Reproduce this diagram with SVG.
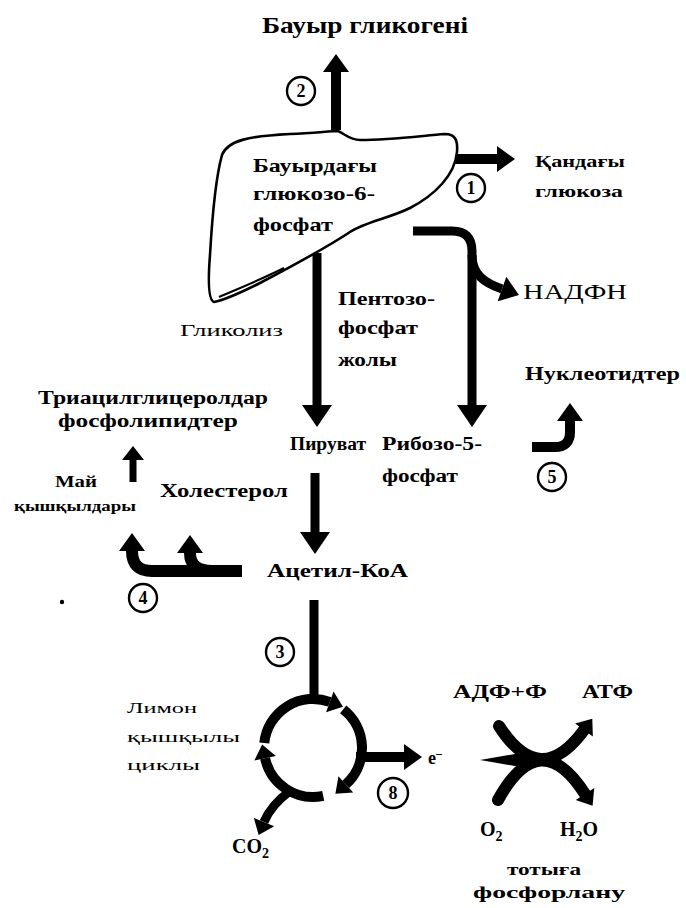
<svg xmlns="http://www.w3.org/2000/svg" width="686" height="908" viewBox="0 0 686 908">
  <style>
    text { font-family: "Liberation Serif", "DejaVu Serif", serif; fill: #000; }
    .b { font-weight: bold; }
    .num { font-weight: bold; font-size: 18px; text-anchor: middle; }
    .ring { fill: #fff; stroke: #000; stroke-width: 2.4; }
    .thick { fill: none; stroke: #000; stroke-width: 10; }
    .heavy { fill: none; stroke: #000; stroke-width: 12; }
    .mid { fill: none; stroke: #000; stroke-width: 9; }
    .thin { fill: none; stroke: #000; stroke-width: 7; }
    .outline { fill: #fff; stroke: #000; stroke-width: 2.6; stroke-linejoin: round; }
  </style>
  <defs>
    <marker id="hL" markerUnits="userSpaceOnUse" markerWidth="22" markerHeight="30" refX="0" refY="15" orient="auto" overflow="visible">
      <path d="M0,0 L22,15 L0,30 Z" fill="#000"/>
    </marker>
    <marker id="hM" markerUnits="userSpaceOnUse" markerWidth="18" markerHeight="26" refX="0" refY="13" orient="auto" overflow="visible">
      <path d="M0,0 L18,13 L0,26 Z" fill="#000"/>
    </marker>
    <marker id="hS" markerUnits="userSpaceOnUse" markerWidth="14" markerHeight="22" refX="0" refY="11" orient="auto" overflow="visible">
      <path d="M0,0 L14,11 L0,22 Z" fill="#000"/>
    </marker>
  </defs>
  <rect width="686" height="908" fill="#fff"/>

  <!-- connectors -->
  <g id="connectors">
    <!-- 2: to liver glycogen -->
    <path class="thick" d="M336,130 V72" marker-end="url(#hM)"/>
    <!-- 1: to blood glucose -->
    <path class="thick" d="M455,159 H497" marker-end="url(#hM)"/>
    <!-- pentose phosphate branch: to ribose-5-phosphate and NADPH -->
    <path class="mid" d="M413,231 H452 Q472,231 472,251 V405" marker-end="url(#hL)"/>
    <path class="mid" d="M472,255 C472,275 485,283 502,289" marker-end="url(#hM)"/>
    <!-- glycolysis -->
    <path class="mid" d="M317,253 V405" marker-end="url(#hL)"/>
    <!-- pyruvate to acetyl-CoA -->
    <path class="mid" d="M315,473 V532" marker-end="url(#hL)"/>
    <!-- fatty acids to triacylglycerols -->
    <path class="thin" d="M133,482 V460" marker-end="url(#hS)"/>
    <!-- 4: acetyl-CoA to fatty acids and cholesterol -->
    <path class="heavy" d="M242,571 H152 Q132,571 132,551" marker-end="url(#hM)"/>
    <path class="heavy" d="M212,571 Q190,571 190,553" marker-end="url(#hM)"/>
    <!-- 5: to nucleotides -->
    <path class="thick" d="M532,447 H555 Q570,447 570,432 V421" marker-end="url(#hM)"/>
    <!-- 3: into the citric acid cycle -->
    <path class="mid" d="M314,600 V700"/>
    <!-- citric acid cycle arcs -->
    <path class="thick" d="M264.3,742.9 A49,49 0 0 1 329.8,701.9" marker-end="url(#hS)"/>
    <path class="thick" d="M343.2,709.4 A49,49 0 0 1 345.8,784.4" marker-end="url(#hS)"/>
    <path class="thick" d="M323.2,795.9 A49,49 0 0 1 265.1,758.2" marker-end="url(#hS)"/>
    <!-- 8: electrons out -->
    <path class="thick" d="M356,757 H404" marker-end="url(#hM)"/>
    <!-- CO2 out -->
    <path class="mid" d="M290,791 Q271,805 264,822" marker-end="url(#hS)"/>
    <!-- oxidative phosphorylation cross -->
    <path d="M480,760 L515,754 L545,754 L545,766 L515,766 Z" fill="#000"/>
    <path class="heavy" stroke-linecap="round" d="M499,726 Q540,790 584,730" marker-end="url(#hS)"/>
    <path class="heavy" stroke-linecap="round" d="M498,800 Q540,724 585,794" marker-end="url(#hS)"/>
  </g>

  <!-- liver with glucose-6-phosphate -->
  <g id="liver">
    <path class="outline" d="M222,155 C228,140 250,136 290,134 C315,133 330,131 338,131 C345,134 350,140 360,140 C390,140 420,136 445,134 C455,134 458,140 457,152 C455,175 435,195 410,208 C390,218 365,222 350,232 C335,242 300,262 260,283 C240,293 225,300 214,302 C208,300 208,280 210,255 C212,220 215,180 222,155 Z"/>
    <path d="M219,297 C240,288 262,279 284,268" fill="none" stroke="#000" stroke-width="2"/>
    <text class="b" x="253" y="172" font-size="19" textLength="124" lengthAdjust="spacingAndGlyphs">Бауырдағы</text>
    <text class="b" x="253" y="200" font-size="19" textLength="122" lengthAdjust="spacingAndGlyphs">глюкозо-6-</text>
    <text class="b" x="253" y="231" font-size="19" textLength="80" lengthAdjust="spacingAndGlyphs">фосфат</text>
  </g>

  <g id="glycogen">
    <text class="b" x="262" y="33" font-size="23" textLength="206" lengthAdjust="spacingAndGlyphs">Бауыр гликогені</text>
  </g>
  <g id="blood-glucose">
    <text class="b" x="535" y="167" font-size="17" textLength="90" lengthAdjust="spacingAndGlyphs">Қандағы</text>
    <text class="b" x="535" y="197" font-size="17" textLength="88" lengthAdjust="spacingAndGlyphs">глюкоза</text>
  </g>
  <g id="nadph">
    <text x="523" y="299" font-size="21" textLength="104" lengthAdjust="spacingAndGlyphs">НАДФН</text>
  </g>
  <g id="glycolysis-label">
    <text x="180" y="336" font-size="17" textLength="103" lengthAdjust="spacingAndGlyphs">Гликолиз</text>
  </g>
  <g id="pentose-label">
    <text class="b" x="338" y="305" font-size="19" textLength="97" lengthAdjust="spacingAndGlyphs">Пентозо-</text>
    <text class="b" x="338" y="334" font-size="19" textLength="80" lengthAdjust="spacingAndGlyphs">фосфат</text>
    <text class="b" x="338" y="366" font-size="19" textLength="59" lengthAdjust="spacingAndGlyphs">жолы</text>
  </g>
  <g id="triacylglycerols">
    <text class="b" x="38" y="404" font-size="18" textLength="230" lengthAdjust="spacingAndGlyphs">Триацилглицеролдар</text>
    <text class="b" x="58" y="427" font-size="18" textLength="180" lengthAdjust="spacingAndGlyphs">фосфолипидтер</text>
  </g>
  <g id="pyruvate">
    <text class="b" x="290" y="450" font-size="18" textLength="76" lengthAdjust="spacingAndGlyphs">Пируват</text>
  </g>
  <g id="ribose">
    <text class="b" x="382" y="450" font-size="18" textLength="100" lengthAdjust="spacingAndGlyphs">Рибозо-5-</text>
    <text class="b" x="382" y="482" font-size="18" textLength="76" lengthAdjust="spacingAndGlyphs">фосфат</text>
  </g>
  <g id="nucleotides">
    <text class="b" x="525" y="380" font-size="19" textLength="155" lengthAdjust="spacingAndGlyphs">Нуклеотидтер</text>
  </g>
  <g id="fatty-acids">
    <text class="b" x="55" y="487" font-size="17" textLength="42" lengthAdjust="spacingAndGlyphs">Май</text>
    <text class="b" x="14" y="511" font-size="15" textLength="122" lengthAdjust="spacingAndGlyphs">қышқылдары</text>
  </g>
  <g id="cholesterol">
    <text class="b" x="160" y="497" font-size="18" textLength="128" lengthAdjust="spacingAndGlyphs">Холестерол</text>
  </g>
  <g id="acetyl-coa">
    <text class="b" x="267" y="577" font-size="18" textLength="141" lengthAdjust="spacingAndGlyphs">Ацетил-КоА</text>
  </g>
  <circle cx="62" cy="602" r="2.2" fill="#000"/>

  <g id="citric-cycle-label">
    <text x="127" y="713" font-size="15" textLength="70" lengthAdjust="spacingAndGlyphs">Лимон</text>
    <text x="127" y="742" font-size="15" textLength="113" lengthAdjust="spacingAndGlyphs">қышқылы</text>
    <text x="127" y="770" font-size="15" textLength="73" lengthAdjust="spacingAndGlyphs">циклы</text>
  </g>
  <g id="electrons">
    <text class="b" x="428" y="764" font-size="18">e<tspan dy="-7" font-size="12">–</tspan></text>
  </g>
  <g id="co2">
    <text class="b" x="232" y="853" font-size="20">CO<tspan dy="5" font-size="14">2</tspan></text>
  </g>
  <g id="adp">
    <text class="b" x="453" y="698" font-size="18" textLength="94" lengthAdjust="spacingAndGlyphs">АДФ+Ф</text>
  </g>
  <g id="atp">
    <text class="b" x="582" y="698" font-size="18" textLength="51" lengthAdjust="spacingAndGlyphs">АТФ</text>
  </g>
  <g id="oxygen">
    <text class="b" x="480" y="836" font-size="20">O<tspan dy="5" font-size="14">2</tspan></text>
  </g>
  <g id="water">
    <text class="b" x="560" y="836" font-size="20">H<tspan dy="5" font-size="14">2</tspan><tspan dy="-5">O</tspan></text>
  </g>
  <g id="oxidative-phosphorylation">
    <text class="b" x="507" y="875" font-size="17" textLength="74" lengthAdjust="spacingAndGlyphs">тотыға</text>
    <text class="b" x="473" y="898" font-size="17" textLength="152" lengthAdjust="spacingAndGlyphs">фосфорлану</text>
  </g>

  <!-- step numbers -->
  <g id="step-1"><circle class="ring" cx="471" cy="188" r="14"/><text class="num" x="471" y="194">1</text></g>
  <g id="step-2"><circle class="ring" cx="301" cy="91" r="14"/><text class="num" x="301" y="97">2</text></g>
  <g id="step-3"><circle class="ring" cx="280" cy="652" r="14"/><text class="num" x="280" y="658">3</text></g>
  <g id="step-4"><circle class="ring" cx="143" cy="598" r="14"/><text class="num" x="143" y="604">4</text></g>
  <g id="step-5"><circle class="ring" cx="552" cy="477" r="14"/><text class="num" x="552" y="483">5</text></g>
  <g id="step-8"><circle class="ring" cx="393" cy="793" r="15"/><text class="num" x="393" y="799">8</text></g>
</svg>
